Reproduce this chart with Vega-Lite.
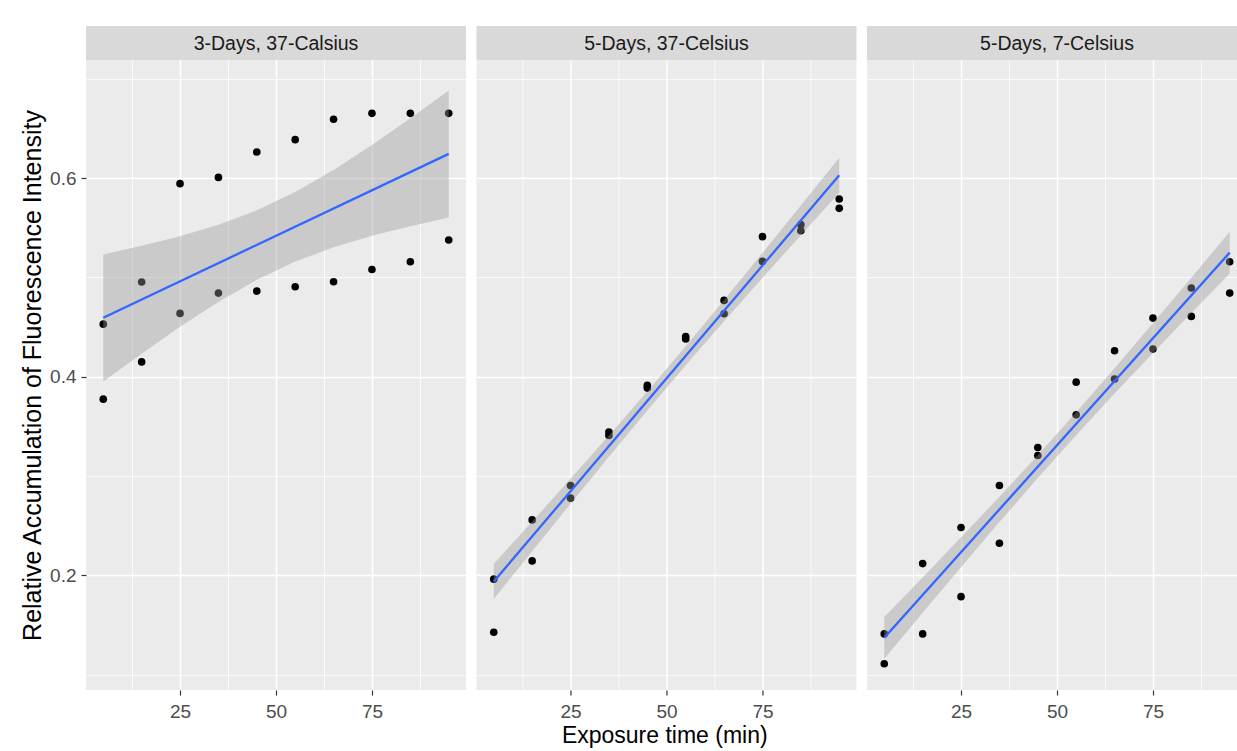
{
  "$schema": "https://vega.github.io/schema/vega-lite/v6.json",
  "background": "#FFFFFF",
  "padding": {"left": 20, "top": 26, "right": 0, "bottom": 0},
  "datasets": {
    "strips": [
      {"panel": "3-Days, 37-Calsius"},
      {"panel": "5-Days, 37-Celsius"},
      {"panel": "5-Days, 7-Celsius"}
    ],
    "points": [
      {"panel": "3-Days, 37-Calsius", "time": 5, "value": 0.453},
      {"panel": "3-Days, 37-Calsius", "time": 5, "value": 0.3775},
      {"panel": "3-Days, 37-Calsius", "time": 15, "value": 0.4954},
      {"panel": "3-Days, 37-Calsius", "time": 15, "value": 0.415},
      {"panel": "3-Days, 37-Calsius", "time": 25, "value": 0.5945},
      {"panel": "3-Days, 37-Calsius", "time": 25, "value": 0.4638},
      {"panel": "3-Days, 37-Calsius", "time": 35, "value": 0.6008},
      {"panel": "3-Days, 37-Calsius", "time": 35, "value": 0.4843},
      {"panel": "3-Days, 37-Calsius", "time": 45, "value": 0.6264},
      {"panel": "3-Days, 37-Calsius", "time": 45, "value": 0.4863},
      {"panel": "3-Days, 37-Calsius", "time": 55, "value": 0.6388},
      {"panel": "3-Days, 37-Calsius", "time": 55, "value": 0.4907},
      {"panel": "3-Days, 37-Calsius", "time": 65, "value": 0.6593},
      {"panel": "3-Days, 37-Calsius", "time": 65, "value": 0.4957},
      {"panel": "3-Days, 37-Calsius", "time": 75, "value": 0.6653},
      {"panel": "3-Days, 37-Calsius", "time": 75, "value": 0.5081},
      {"panel": "3-Days, 37-Calsius", "time": 85, "value": 0.6653},
      {"panel": "3-Days, 37-Calsius", "time": 85, "value": 0.5159},
      {"panel": "3-Days, 37-Calsius", "time": 95, "value": 0.6653},
      {"panel": "3-Days, 37-Calsius", "time": 95, "value": 0.5377},
      {"panel": "5-Days, 37-Celsius", "time": 5, "value": 0.1962},
      {"panel": "5-Days, 37-Celsius", "time": 5, "value": 0.1428},
      {"panel": "5-Days, 37-Celsius", "time": 15, "value": 0.2559},
      {"panel": "5-Days, 37-Celsius", "time": 15, "value": 0.2146},
      {"panel": "5-Days, 37-Celsius", "time": 25, "value": 0.2905},
      {"panel": "5-Days, 37-Celsius", "time": 25, "value": 0.2778},
      {"panel": "5-Days, 37-Celsius", "time": 35, "value": 0.3443},
      {"panel": "5-Days, 37-Celsius", "time": 35, "value": 0.3409},
      {"panel": "5-Days, 37-Celsius", "time": 45, "value": 0.3913},
      {"panel": "5-Days, 37-Celsius", "time": 45, "value": 0.3886},
      {"panel": "5-Days, 37-Celsius", "time": 55, "value": 0.4406},
      {"panel": "5-Days, 37-Celsius", "time": 55, "value": 0.438},
      {"panel": "5-Days, 37-Celsius", "time": 65, "value": 0.4769},
      {"panel": "5-Days, 37-Celsius", "time": 65, "value": 0.4635},
      {"panel": "5-Days, 37-Celsius", "time": 75, "value": 0.5411},
      {"panel": "5-Days, 37-Celsius", "time": 75, "value": 0.5162},
      {"panel": "5-Days, 37-Celsius", "time": 85, "value": 0.5532},
      {"panel": "5-Days, 37-Celsius", "time": 85, "value": 0.5471},
      {"panel": "5-Days, 37-Celsius", "time": 95, "value": 0.579},
      {"panel": "5-Days, 37-Celsius", "time": 95, "value": 0.5696},
      {"panel": "5-Days, 7-Celsius", "time": 5, "value": 0.1411},
      {"panel": "5-Days, 7-Celsius", "time": 5, "value": 0.1111},
      {"panel": "5-Days, 7-Celsius", "time": 15, "value": 0.2119},
      {"panel": "5-Days, 7-Celsius", "time": 15, "value": 0.1411},
      {"panel": "5-Days, 7-Celsius", "time": 25, "value": 0.2482},
      {"panel": "5-Days, 7-Celsius", "time": 25, "value": 0.1786},
      {"panel": "5-Days, 7-Celsius", "time": 35, "value": 0.2905},
      {"panel": "5-Days, 7-Celsius", "time": 35, "value": 0.2324},
      {"panel": "5-Days, 7-Celsius", "time": 45, "value": 0.3288},
      {"panel": "5-Days, 7-Celsius", "time": 45, "value": 0.3207},
      {"panel": "5-Days, 7-Celsius", "time": 55, "value": 0.3946},
      {"panel": "5-Days, 7-Celsius", "time": 55, "value": 0.3617},
      {"panel": "5-Days, 7-Celsius", "time": 65, "value": 0.4262},
      {"panel": "5-Days, 7-Celsius", "time": 65, "value": 0.3977},
      {"panel": "5-Days, 7-Celsius", "time": 75, "value": 0.4591},
      {"panel": "5-Days, 7-Celsius", "time": 75, "value": 0.4279},
      {"panel": "5-Days, 7-Celsius", "time": 85, "value": 0.4894},
      {"panel": "5-Days, 7-Celsius", "time": 85, "value": 0.4608},
      {"panel": "5-Days, 7-Celsius", "time": 95, "value": 0.5159},
      {"panel": "5-Days, 7-Celsius", "time": 95, "value": 0.4843}
    ],
    "bands": [
      {"panel": "3-Days, 37-Calsius", "time": 5, "lo": 0.3952, "hi": 0.5232},
      {"panel": "3-Days, 37-Calsius", "time": 15, "lo": 0.4233, "hi": 0.5319},
      {"panel": "3-Days, 37-Calsius", "time": 25, "lo": 0.4503, "hi": 0.5415},
      {"panel": "3-Days, 37-Calsius", "time": 35, "lo": 0.4754, "hi": 0.5532},
      {"panel": "3-Days, 37-Calsius", "time": 45, "lo": 0.4976, "hi": 0.5676},
      {"panel": "3-Days, 37-Calsius", "time": 55, "lo": 0.516, "hi": 0.586},
      {"panel": "3-Days, 37-Calsius", "time": 65, "lo": 0.5304, "hi": 0.6082},
      {"panel": "3-Days, 37-Calsius", "time": 75, "lo": 0.5421, "hi": 0.6333},
      {"panel": "3-Days, 37-Calsius", "time": 85, "lo": 0.5517, "hi": 0.6603},
      {"panel": "3-Days, 37-Calsius", "time": 95, "lo": 0.5604, "hi": 0.6884},
      {"panel": "5-Days, 37-Celsius", "time": 5, "lo": 0.1762, "hi": 0.2114},
      {"panel": "5-Days, 37-Celsius", "time": 15, "lo": 0.2244, "hi": 0.2542},
      {"panel": "5-Days, 37-Celsius", "time": 25, "lo": 0.2721, "hi": 0.2973},
      {"panel": "5-Days, 37-Celsius", "time": 35, "lo": 0.3195, "hi": 0.3409},
      {"panel": "5-Days, 37-Celsius", "time": 45, "lo": 0.3661, "hi": 0.3853},
      {"panel": "5-Days, 37-Celsius", "time": 55, "lo": 0.4115, "hi": 0.4307},
      {"panel": "5-Days, 37-Celsius", "time": 65, "lo": 0.4559, "hi": 0.4773},
      {"panel": "5-Days, 37-Celsius", "time": 75, "lo": 0.4995, "hi": 0.5247},
      {"panel": "5-Days, 37-Celsius", "time": 85, "lo": 0.5426, "hi": 0.5724},
      {"panel": "5-Days, 37-Celsius", "time": 95, "lo": 0.5854, "hi": 0.6206},
      {"panel": "5-Days, 7-Celsius", "time": 5, "lo": 0.1161, "hi": 0.1581},
      {"panel": "5-Days, 7-Celsius", "time": 15, "lo": 0.1624, "hi": 0.198},
      {"panel": "5-Days, 7-Celsius", "time": 25, "lo": 0.2083, "hi": 0.2383},
      {"panel": "5-Days, 7-Celsius", "time": 35, "lo": 0.2537, "hi": 0.2791},
      {"panel": "5-Days, 7-Celsius", "time": 45, "lo": 0.2981, "hi": 0.3211},
      {"panel": "5-Days, 7-Celsius", "time": 55, "lo": 0.3412, "hi": 0.3642},
      {"panel": "5-Days, 7-Celsius", "time": 65, "lo": 0.3831, "hi": 0.4085},
      {"panel": "5-Days, 7-Celsius", "time": 75, "lo": 0.4239, "hi": 0.4539},
      {"panel": "5-Days, 7-Celsius", "time": 85, "lo": 0.4642, "hi": 0.4998},
      {"panel": "5-Days, 7-Celsius", "time": 95, "lo": 0.5041, "hi": 0.5461}
    ]
  },
  "title": {
    "text": "Exposure time (min)",
    "orient": "bottom",
    "anchor": "middle",
    "font": "Liberation Sans",
    "fontSize": 23,
    "fontWeight": "normal",
    "color": "#000000",
    "offset": 4,
    "dx": 36
  },
  "spacing": 10.5,
  "hconcat": [
    {
      "bounds": "flush",
      "spacing": 0,
      "vconcat": [
        {
          "width": 380,
          "height": 34,
          "view": {"fill": "#D9D9D9", "stroke": null},
          "data": {"name": "strips"},
          "transform": [{"filter": "datum.panel === '3-Days, 37-Calsius'"}],
          "mark": {"type": "text", "font": "Liberation Sans", "fontSize": 19.5, "color": "#1A1A1A", "dy": 1},
          "encoding": {"text": {"field": "panel", "type": "nominal"}}
        },
        {
          "width": 380,
          "height": 630,
          "view": {"fill": "#EBEBEB", "stroke": null},
          "layer": [
            {
              "data": {"name": "points"},
              "transform": [{"filter": "datum.panel === '3-Days, 37-Calsius'"}],
              "mark": {"type": "point", "filled": true, "size": 58, "color": "#000000", "opacity": 1},
              "encoding": {
                "x": {"field": "time", "type": "quantitative", "scale": {"domain": [0.5, 99.5], "nice": false, "zero": false},
                  "axis": {"orient": "bottom", "values": [25, 50, 75], "grid": true, "gridColor": "#FFFFFF", "gridWidth": 1.5, "domain": false, "ticks": true, "tickColor": "#333333", "tickSize": 5, "tickWidth": 1.2, "labelColor": "#4D4D4D", "labelFontSize": 19, "labelFont": "Liberation Sans", "labelPadding": 7, "title": null}},
                "y": {"field": "value", "type": "quantitative", "scale": {"domain": [0.0846, 0.719], "nice": false, "zero": false},
                  "axis": {"orient": "left", "values": [0.2, 0.4, 0.6], "format": ".1f", "grid": true, "gridColor": "#FFFFFF", "gridWidth": 1.5, "domain": false, "ticks": true, "tickColor": "#333333", "tickSize": 5, "tickWidth": 1.2, "labelColor": "#4D4D4D", "labelFontSize": 19, "labelFont": "Liberation Sans", "labelPadding": 5, "title": "Relative Accumulation of Fluorescence Intensity", "titleFont": "Liberation Sans", "titleFontSize": 25, "titleFontWeight": "normal", "titleColor": "#000000", "titlePadding": 4}}
              }
            },
            {
              "data": {"name": "bands"},
              "transform": [{"filter": "datum.panel === '3-Days, 37-Calsius'"}],
              "mark": {"type": "area", "color": "#999999", "opacity": 0.4},
              "encoding": {
                "x": {"field": "time", "type": "quantitative",
                  "axis": {"orient": "top", "values": [12.5, 37.5, 62.5, 87.5], "grid": true, "gridColor": "#FFFFFF", "gridWidth": 0.8, "domain": false, "ticks": false, "labels": false, "title": null}},
                "y": {"field": "lo", "type": "quantitative",
                  "axis": {"orient": "right", "values": [0.1, 0.3, 0.5, 0.7], "grid": true, "gridColor": "#FFFFFF", "gridWidth": 0.8, "domain": false, "ticks": false, "labels": false, "title": null}},
                "y2": {"field": "hi"}
              }
            },
            {
              "data": {"name": "points"},
              "transform": [
                {"filter": "datum.panel === '3-Days, 37-Calsius'"},
                {"regression": "value", "on": "time", "extent": [5, 95]}
              ],
              "mark": {"type": "line", "color": "#3366FF", "strokeWidth": 2.3},
              "encoding": {
                "x": {"field": "time", "type": "quantitative", "axis": null},
                "y": {"field": "value", "type": "quantitative", "axis": null}
              }
            }
          ]
        }
      ]
    },
    {
      "bounds": "flush",
      "spacing": 0,
      "vconcat": [
        {
          "width": 380,
          "height": 34,
          "view": {"fill": "#D9D9D9", "stroke": null},
          "data": {"name": "strips"},
          "transform": [{"filter": "datum.panel === '5-Days, 37-Celsius'"}],
          "mark": {"type": "text", "font": "Liberation Sans", "fontSize": 19.5, "color": "#1A1A1A", "dy": 1},
          "encoding": {"text": {"field": "panel", "type": "nominal"}}
        },
        {
          "width": 380,
          "height": 630,
          "view": {"fill": "#EBEBEB", "stroke": null},
          "layer": [
            {
              "data": {"name": "points"},
              "transform": [{"filter": "datum.panel === '5-Days, 37-Celsius'"}],
              "mark": {"type": "point", "filled": true, "size": 58, "color": "#000000", "opacity": 1},
              "encoding": {
                "x": {"field": "time", "type": "quantitative", "scale": {"domain": [0.5, 99.5], "nice": false, "zero": false},
                  "axis": {"orient": "bottom", "values": [25, 50, 75], "grid": true, "gridColor": "#FFFFFF", "gridWidth": 1.5, "domain": false, "ticks": true, "tickColor": "#333333", "tickSize": 5, "tickWidth": 1.2, "labelColor": "#4D4D4D", "labelFontSize": 19, "labelFont": "Liberation Sans", "labelPadding": 7, "title": null}},
                "y": {"field": "value", "type": "quantitative", "scale": {"domain": [0.0846, 0.719], "nice": false, "zero": false},
                  "axis": {"orient": "left", "values": [0.2, 0.4, 0.6], "grid": true, "gridColor": "#FFFFFF", "gridWidth": 1.5, "domain": false, "ticks": false, "labels": false, "title": null}}
              }
            },
            {
              "data": {"name": "bands"},
              "transform": [{"filter": "datum.panel === '5-Days, 37-Celsius'"}],
              "mark": {"type": "area", "color": "#999999", "opacity": 0.4},
              "encoding": {
                "x": {"field": "time", "type": "quantitative",
                  "axis": {"orient": "top", "values": [12.5, 37.5, 62.5, 87.5], "grid": true, "gridColor": "#FFFFFF", "gridWidth": 0.8, "domain": false, "ticks": false, "labels": false, "title": null}},
                "y": {"field": "lo", "type": "quantitative",
                  "axis": {"orient": "right", "values": [0.1, 0.3, 0.5, 0.7], "grid": true, "gridColor": "#FFFFFF", "gridWidth": 0.8, "domain": false, "ticks": false, "labels": false, "title": null}},
                "y2": {"field": "hi"}
              }
            },
            {
              "data": {"name": "points"},
              "transform": [
                {"filter": "datum.panel === '5-Days, 37-Celsius'"},
                {"regression": "value", "on": "time", "extent": [5, 95]}
              ],
              "mark": {"type": "line", "color": "#3366FF", "strokeWidth": 2.3},
              "encoding": {
                "x": {"field": "time", "type": "quantitative", "axis": null},
                "y": {"field": "value", "type": "quantitative", "axis": null}
              }
            }
          ]
        }
      ]
    },
    {
      "bounds": "flush",
      "spacing": 0,
      "vconcat": [
        {
          "width": 370,
          "height": 34,
          "view": {"fill": "#D9D9D9", "stroke": null},
          "data": {"name": "strips"},
          "transform": [{"filter": "datum.panel === '5-Days, 7-Celsius'"}],
          "mark": {"type": "text", "font": "Liberation Sans", "fontSize": 19.5, "color": "#1A1A1A", "dx": 5, "dy": 1},
          "encoding": {"text": {"field": "panel", "type": "nominal"}}
        },
        {
          "width": 370,
          "height": 630,
          "view": {"fill": "#EBEBEB", "stroke": null},
          "layer": [
            {
              "data": {"name": "points"},
              "transform": [{"filter": "datum.panel === '5-Days, 7-Celsius'"}],
              "mark": {"type": "point", "filled": true, "size": 58, "color": "#000000", "opacity": 1},
              "encoding": {
                "x": {"field": "time", "type": "quantitative", "scale": {"domain": [0.5, 96.9], "nice": false, "zero": false},
                  "axis": {"orient": "bottom", "values": [25, 50, 75], "grid": true, "gridColor": "#FFFFFF", "gridWidth": 1.5, "domain": false, "ticks": true, "tickColor": "#333333", "tickSize": 5, "tickWidth": 1.2, "labelColor": "#4D4D4D", "labelFontSize": 19, "labelFont": "Liberation Sans", "labelPadding": 7, "title": null}},
                "y": {"field": "value", "type": "quantitative", "scale": {"domain": [0.0846, 0.719], "nice": false, "zero": false},
                  "axis": {"orient": "left", "values": [0.2, 0.4, 0.6], "grid": true, "gridColor": "#FFFFFF", "gridWidth": 1.5, "domain": false, "ticks": false, "labels": false, "title": null}}
              }
            },
            {
              "data": {"name": "bands"},
              "transform": [{"filter": "datum.panel === '5-Days, 7-Celsius'"}],
              "mark": {"type": "area", "color": "#999999", "opacity": 0.4},
              "encoding": {
                "x": {"field": "time", "type": "quantitative",
                  "axis": {"orient": "top", "values": [12.5, 37.5, 62.5, 87.5], "grid": true, "gridColor": "#FFFFFF", "gridWidth": 0.8, "domain": false, "ticks": false, "labels": false, "title": null}},
                "y": {"field": "lo", "type": "quantitative",
                  "axis": {"orient": "right", "values": [0.1, 0.3, 0.5, 0.7], "grid": true, "gridColor": "#FFFFFF", "gridWidth": 0.8, "domain": false, "ticks": false, "labels": false, "title": null}},
                "y2": {"field": "hi"}
              }
            },
            {
              "data": {"name": "points"},
              "transform": [
                {"filter": "datum.panel === '5-Days, 7-Celsius'"},
                {"regression": "value", "on": "time", "extent": [5, 95]}
              ],
              "mark": {"type": "line", "color": "#3366FF", "strokeWidth": 2.3},
              "encoding": {
                "x": {"field": "time", "type": "quantitative", "axis": null},
                "y": {"field": "value", "type": "quantitative", "axis": null}
              }
            }
          ]
        }
      ]
    }
  ],
  "config": {
    "font": "Liberation Sans",
    "view": {"stroke": null}
  }
}
